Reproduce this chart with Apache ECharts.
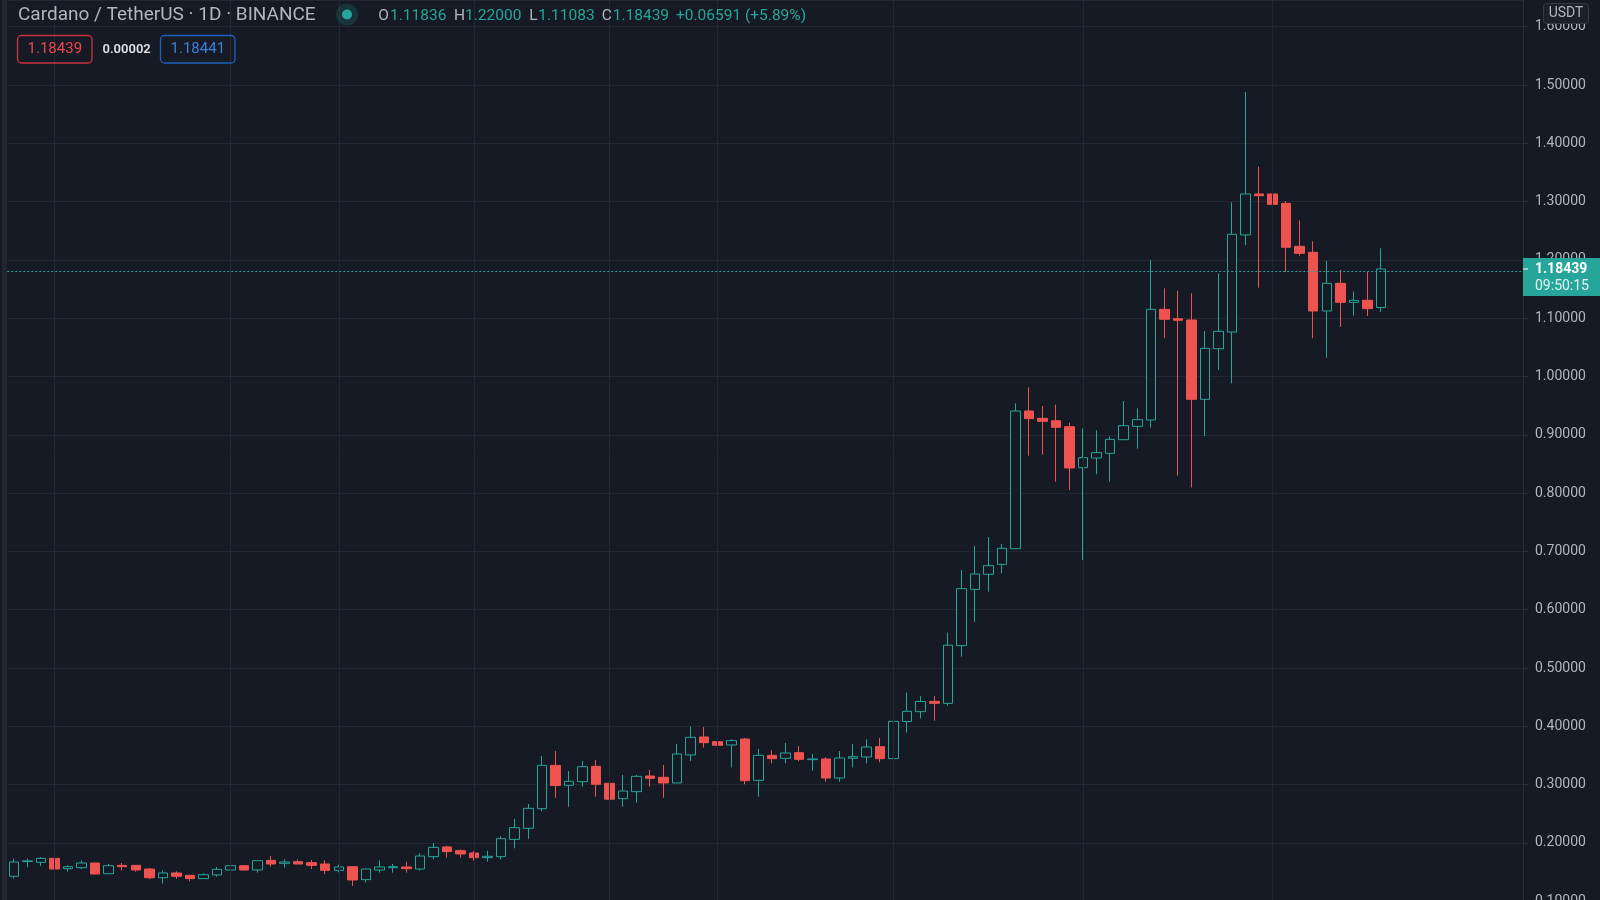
<!DOCTYPE html>
<html>
<head>
<meta charset="utf-8">
<script src="https://cdn.jsdelivr.net/npm/echarts@6/dist/echarts.min.js"></script>
<style>
html,body{margin:0;padding:0;background:#161a25;overflow:hidden;}
#chart{width:1600px;height:900px;}
</style>
</head>
<body>
<div id="chart"></div>
<script>
// ---------- DATA ----------
const firstDay = '2020-11-28';      // first daily candle
const futureDays = 10;              // empty right-hand space (future days)
const opens = [
  0.1427,0.1681,0.1667,0.1735,0.1558,0.1575,0.1655,0.1472,0.1615,0.1615,
  0.1552,0.1403,0.1484,0.1444,0.1387,0.1450,0.1535,0.1609,0.1535,0.1701,
  0.1650,0.1678,0.1661,0.1638,0.1529,0.1592,0.1370,0.1535,0.1575,0.1587,
  0.1552,0.1764,0.1930,0.1867,0.1827,0.1747,0.1764,0.2061,0.2250,0.2587,
  0.3330,0.2988,0.3050,0.3313,0.3022,0.2759,0.2879,0.3148,0.3125,0.3028,
  0.3508,0.3817,0.3737,0.3680,0.3782,0.3073,0.3502,0.3451,0.3548,0.3428,
  0.3439,0.3113,0.3451,0.3474,0.3651,0.3445,0.4082,0.4251,0.4428,0.4394,
  0.5383,0.6349,0.6607,0.6778,0.7047,0.9408,0.9283,0.9242,0.9139,0.8436,
  0.8602,0.8682,0.8916,0.9145,0.9254,1.1152,1.0992,1.0969,0.9608,1.0477,
  1.0763,1.2428,1.3131,1.3131,1.2970,1.2233,1.2130,1.1124,1.1598,1.1272,
  1.1307,1.11836
];
const highs = [
  0.1730,0.1730,0.1758,0.1758,0.1615,0.1701,0.1660,0.1638,0.1655,0.1620,
  0.1569,0.1529,0.1512,0.1450,0.1478,0.1587,0.1627,0.1615,0.1707,0.1775,
  0.1718,0.1718,0.1707,0.1701,0.1627,0.1595,0.1564,0.1701,0.1638,0.1678,
  0.1821,0.1998,0.1952,0.1890,0.1861,0.1867,0.2113,0.2410,0.2667,0.3491,
  0.3574,0.3233,0.3405,0.3422,0.3060,0.3165,0.3165,0.3251,0.3336,0.3697,
  0.3994,0.3988,0.3966,0.3777,0.3800,0.3611,0.3588,0.3714,0.3662,0.3525,
  0.3468,0.3576,0.3697,0.3777,0.3800,0.4262,0.4580,0.4517,0.4517,0.5606,
  0.6681,0.7098,0.7247,0.7127,0.9540,0.9814,0.9494,0.9517,0.9208,0.9111,
  0.9077,0.8974,0.9580,0.9454,1.2000,1.1512,1.1472,1.1427,1.0780,1.1770,
  1.2987,1.4880,1.3599,1.3491,1.3011,1.2679,1.2319,1.1981,1.1827,1.1455,
  1.1793,1.22000
];
const lows = [
  0.1387,0.1581,0.1604,0.1403,0.1507,0.1552,0.1460,0.1466,0.1529,0.1507,
  0.1381,0.1301,0.1381,0.1341,0.1381,0.1421,0.1490,0.1530,0.1490,0.1592,
  0.1575,0.1635,0.1552,0.1466,0.1495,0.1261,0.1318,0.1490,0.1490,0.1490,
  0.1524,0.1718,0.1747,0.1747,0.1695,0.1678,0.1718,0.1907,0.2073,0.2541,
  0.2776,0.2621,0.2965,0.2793,0.2290,0.2621,0.2690,0.2965,0.2776,0.3025,
  0.3405,0.3634,0.3611,0.3296,0.3005,0.2793,0.3365,0.3365,0.3399,0.3239,
  0.3050,0.3050,0.3296,0.3365,0.3382,0.3325,0.3894,0.4137,0.4097,0.4354,
  0.5194,0.5795,0.6309,0.6624,0.7040,0.8642,0.8659,0.8196,0.8053,0.6852,
  0.8322,0.8196,0.8910,0.8762,0.9123,1.0655,0.8299,0.8099,0.8980,1.0112,
  0.9883,1.2256,1.1524,1.2296,1.1793,1.2073,1.0655,1.0323,1.0849,1.1044,
  1.1038,1.11083
];
const closes = [
  0.1672,0.1692,0.1735,0.1552,0.1592,0.1655,0.1466,0.1609,0.1592,0.1535,
  0.1403,0.1484,0.1427,0.1387,0.1455,0.1547,0.1609,0.1535,0.1695,0.1638,
  0.1672,0.1638,0.1615,0.1529,0.1587,0.1364,0.1552,0.1587,0.1592,0.1558,
  0.1775,0.1924,0.1850,0.1810,0.1747,0.1770,0.2073,0.2261,0.2593,0.3330,
  0.2985,0.3056,0.3307,0.3005,0.2750,0.2890,0.3142,0.3108,0.3028,0.3525,
  0.3811,0.3719,0.3674,0.3754,0.3067,0.3502,0.3445,0.3542,0.3433,0.3439,
  0.3113,0.3456,0.3479,0.3645,0.3445,0.4085,0.4257,0.4425,0.4394,0.5392,
  0.6361,0.6612,0.6755,0.7053,0.9408,0.9277,0.9231,0.9128,0.8431,0.8608,
  0.8694,0.8922,0.9157,0.9260,1.1152,1.0981,1.0963,0.9608,1.0483,1.0775,
  1.2439,1.3131,1.3102,1.2953,1.2216,1.2113,1.1124,1.1598,1.1272,1.1307,
  1.1163,1.18439
];
// vertical time grid lines (dates)
const gridDates = ['2020-12-01','2020-12-14','2020-12-22','2021-01-01','2021-01-11',
                   '2021-01-19','2021-02-01','2021-02-15','2021-03-01'];
// price scale ticks
const priceTickMin = 0.1;
const priceTickStep = 0.1;
// header texts
const symbolTitle = 'Cardano / TetherUS · 1D · BINANCE';
const ohlcLabels = ['O','H','L','C'];
const ohlcValues = ['1.11836','1.22000','1.11083','1.18439'];
const changeText = ['+0.06591','(+5.89%)'];
const bidText = '1.18439', spreadText = '0.00002', askText = '1.18441';
const currencyText = 'USDT';
const countdownText = '09:50:15';

// ---------- BUILD ----------
function dayLabels(start, n) {
  const t0 = Date.parse(start + 'T00:00:00Z'); const out = [];
  for (let i = 0; i < n; i++) out.push(new Date(t0 + i * 86400000).toISOString().slice(0, 10));
  return out;
}
const dates = dayLabels(firstDay, opens.length + futureDays);
const candles = opens.map((o, i) => [o, closes[i], lows[i], highs[i]]);
const lastClose = closes[closes.length - 1];

const BG = '#161a25', GRID = '#232733', UP = '#26a69a', DOWN = '#ef5350', TXT = '#b2b5be';
const FONT = 'Roboto, "Noto Sans", sans-serif';

const chart = echarts.init(document.getElementById('chart'), null, {renderer: 'canvas'});
chart.setOption({
  backgroundColor: BG,
  animation: false,
  grid: {left: 7.2, right: 77, top: 0, bottom: -1.2, containLabel: false, outerBoundsMode: 'none'},
  xAxis: {
    type: 'category', data: dates, boundaryGap: true,
    axisLine: {show: false}, axisTick: {show: false}, axisLabel: {show: false}, splitLine: {show: false}
  },
  yAxis: {
    type: 'value', position: 'right',
    min: priceTickMin, max: 1.6458, interval: priceTickStep,
    axisLine: {show: true, lineStyle: {color: '#2a2e39', width: 1}},
    axisTick: {show: true, length: 5, lineStyle: {color: '#2a2e39'}},
    axisLabel: {
      color: TXT, fontSize: 14, fontFamily: FONT, margin: 12, showMaxLabel: false,
      formatter: v => (Math.abs(v / priceTickStep - Math.round(v / priceTickStep)) < 1e-6 ? v.toFixed(5) : '')
    },
    splitLine: {show: true, lineStyle: {color: GRID, width: 1}}
  },
  series: [
    {
      type: 'line', data: dates.map(() => '-'), z: 1, silent: true, symbol: 'none',
      markLine: {
        symbol: 'none', silent: true, animation: false, label: {show: false},
        lineStyle: {color: GRID, type: 'solid', width: 1},
        data: gridDates.map(d => ({xAxis: d}))
      }
    },
    {
      type: 'candlestick', data: candles, barWidth: 10, z: 3,
      itemStyle: {color: BG, color0: DOWN, borderColor: UP, borderColor0: DOWN, borderWidth: 1},
      markLine: {
        symbol: 'none', silent: true, animation: false, label: {show: false},
        lineStyle: {color: UP, type: [2, 2], width: 1},
        data: [{yAxis: lastClose}]
      }
    }
  ]
});

const yP = chart.convertToPixel({yAxisIndex: 0}, lastClose);
const axisX = 1523;
const els = [];
// left panel strip
els.push({type: 'rect', shape: {x: 2, y: 0, width: 5, height: 900}, style: {fill: '#21252f'}, z: 10});
// title
els.push({type: 'text', x: 18, y: 15.5, style: {text: symbolTitle, fill: TXT, font: '19px ' + FONT, verticalAlign: 'middle'}, z: 10});
// live dot
els.push({type: 'circle', shape: {cx: 347, cy: 14.5, r: 11}, style: {fill: 'rgba(38,166,154,0.18)'}, z: 10});
els.push({type: 'circle', shape: {cx: 347, cy: 14.5, r: 5}, style: {fill: UP}, z: 11});
// OHLC
const lx = [378.3, 454, 529.3, 601.7], vx = [390, 465, 538.3, 612.7];
ohlcLabels.forEach((l, i) => {
  els.push({type: 'text', x: lx[i], y: 16, style: {text: l, fill: TXT, font: '15.5px ' + FONT, verticalAlign: 'middle'}, z: 10});
  els.push({type: 'text', x: vx[i], y: 16, style: {text: ohlcValues[i], fill: UP, font: '15.5px ' + FONT, verticalAlign: 'middle'}, z: 10});
});
els.push({type: 'text', x: 676, y: 16, style: {text: changeText[0], fill: UP, font: '15.5px ' + FONT, verticalAlign: 'middle'}, z: 10});
els.push({type: 'text', x: 745, y: 16, style: {text: changeText[1], fill: UP, font: '15.5px ' + FONT, verticalAlign: 'middle'}, z: 10});
// bid / spread / ask
els.push({type: 'rect', shape: {x: 17.5, y: 35.5, width: 74.5, height: 27.5, r: 4}, style: {fill: 'transparent', stroke: '#c9343c', lineWidth: 1.3}, z: 10});
els.push({type: 'text', x: 54.8, y: 49.5, style: {text: bidText, fill: '#f0464e', font: '15px ' + FONT, align: 'center', verticalAlign: 'middle'}, z: 10});
els.push({type: 'text', x: 102.5, y: 49.5, style: {text: spreadText, fill: '#dfe1e6', font: '600 13px ' + FONT, verticalAlign: 'middle'}, z: 10});
els.push({type: 'rect', shape: {x: 160.5, y: 35.5, width: 74.5, height: 27.5, r: 4}, style: {fill: 'transparent', stroke: '#1f61bd', lineWidth: 1.3}, z: 10});
els.push({type: 'text', x: 197.8, y: 49.5, style: {text: askText, fill: '#3a80d8', font: '15px ' + FONT, align: 'center', verticalAlign: 'middle'}, z: 10});
// currency badge
els.push({type: 'rect', shape: {x: 1543.5, y: 3.5, width: 45, height: 20, r: 3}, style: {fill: '#1c202b', stroke: '#363a45', lineWidth: 1}, z: 10});
els.push({type: 'text', x: 1566, y: 13.5, style: {text: currencyText, fill: TXT, font: '14px ' + FONT, align: 'center', verticalAlign: 'middle'}, z: 11});
// last price tag
els.push({type: 'rect', shape: {x: axisX, y: yP - 11, width: 1600 - axisX, height: 38}, style: {fill: '#26a69a'}, z: 10});
els.push({type: 'line', shape: {x1: axisX, y1: yP, x2: axisX + 5, y2: yP}, style: {stroke: '#ffffff', lineWidth: 1}, z: 11});
els.push({type: 'text', x: 1535, y: yP, style: {text: lastClose.toFixed(5), fill: '#ffffff', font: 'bold 14px ' + FONT, verticalAlign: 'middle'}, z: 11});
els.push({type: 'text', x: 1535, y: yP + 17, style: {text: countdownText, fill: '#e3f4f1', font: '14px ' + FONT, verticalAlign: 'middle'}, z: 11});
chart.setOption({graphic: {elements: els}});
</script>
</body>
</html>
